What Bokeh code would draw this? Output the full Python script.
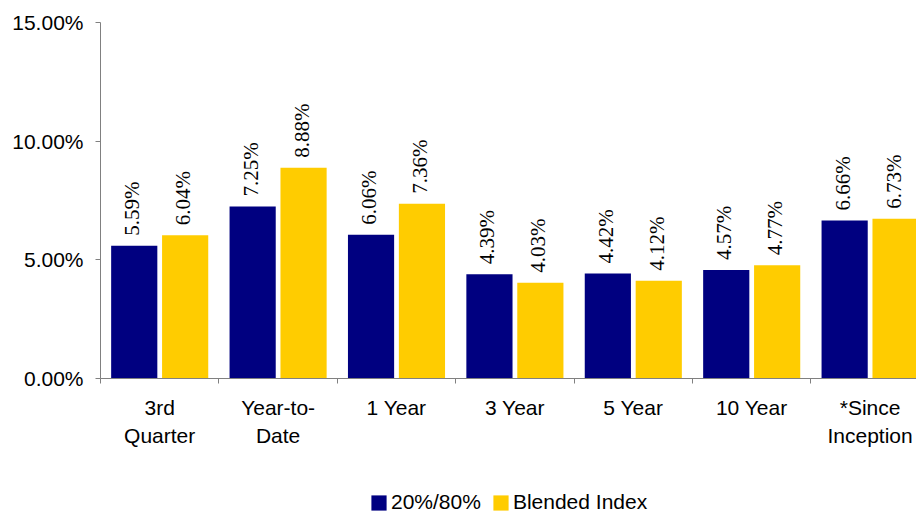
import math
from bokeh.plotting import figure
from bokeh.layouts import column
from bokeh.models import (Range1d, FixedTicker, PrintfTickFormatter, LinearAxis,
                          Legend, LegendItem, LabelSet, ColumnDataSource)
from bokeh.embed import file_html
from bokeh.resources import INLINE

# ---- data ----
categories = ["3rd\nQuarter", "Year-to-\nDate", "1 Year", "3 Year", "5 Year",
              "10 Year", "*Since\nInception"]
fund_returns = [5.59, 7.25, 6.06, 4.39, 4.42, 4.57, 6.66]
index_returns = [6.04, 8.88, 7.36, 4.03, 4.12, 4.77, 6.73]
series_names = ["20%/80%", "Blended Index"]
y_ticks = [0, 5, 10, 15]

FONT = "Liberation Sans"
FS = "21px"
BLUE = "#000080"
YELLOW = "#FFCC00"
AXIS = "#808080"

n = len(categories)
centers = [i + 0.5 for i in range(n)]
cat_px = 118.4
frame_w = 816

src = ColumnDataSource(dict(
    x1=[c - 0.215 for c in centers],
    x2=[c + 0.215 for c in centers],
    fund=fund_returns,
    idx=index_returns,
    fl=[f"{v:.2f}%" for v in fund_returns],
    il=[f"{v:.2f}%" for v in index_returns],
))

H1 = 462
p = figure(width=916, height=H1, output_backend="svg", toolbar_location=None,
           x_range=Range1d(0, frame_w / cat_px), y_range=Range1d(0, 15),
           x_axis_type=None, y_axis_type=None,
           min_border_left=100, min_border_right=0, min_border_top=22,
           min_border_bottom=H1 - 378)
p.outline_line_color = None
p.background_fill_color = "white"
p.border_fill_color = "white"

r1 = p.vbar(x="x1", top="fund", width=0.39, source=src, fill_color=BLUE, line_color=None)
r2 = p.vbar(x="x2", top="idx", width=0.39, source=src, fill_color=YELLOW, line_color=None)

yaxis = LinearAxis(ticker=FixedTicker(ticks=y_ticks),
                   formatter=PrintfTickFormatter(format="%.2f%%"),
                   major_tick_out=5, major_tick_in=0,
                   minor_tick_line_color=None,
                   axis_line_color=AXIS, major_tick_line_color=AXIS,
                   major_label_standoff=12,
                   major_label_text_font=FONT, major_label_text_font_size=FS,
                   major_label_text_color="black")
p.add_layout(yaxis, "left")

xaxis = LinearAxis(ticker=FixedTicker(ticks=centers, minor_ticks=list(range(n + 1))),
                   major_label_overrides={c: lab for c, lab in zip(centers, categories)},
                   major_tick_line_color=None, major_tick_out=5, major_tick_in=0,
                   minor_tick_in=0, minor_tick_out=5, minor_tick_line_color=AXIS,
                   axis_line_color=AXIS, major_label_standoff=12,
                   major_label_text_font=FONT, major_label_text_font_size=FS,
                   major_label_text_color="black",
                   major_label_text_line_height=1.26)
p.add_layout(xaxis, "below")

for xcol, lcol, ycol in (("x1", "fl", "fund"), ("x2", "il", "idx")):
    p.add_layout(LabelSet(x=xcol, y=ycol, text=lcol, source=src, angle=math.pi / 2,
                          text_align="left", text_baseline="middle",
                          x_offset=-2, y_offset=10,
                          text_font=FONT, text_font_size=FS, text_color="black"))

# ---- legend strip below the chart (its frame is aligned with the chart's frame) ----
H2 = 512 - H1
p2 = figure(width=916, height=H2, output_backend="svg", toolbar_location=None,
            x_range=Range1d(0, 1), y_range=Range1d(0, 1),
            x_axis_type=None, y_axis_type=None,
            min_border_left=0, min_border_right=0, min_border_top=0, min_border_bottom=0)
p2.outline_line_color = None
p2.background_fill_color = "white"
p2.border_fill_color = "white"
# key renderers: one bar each, placed outside the visible range
k1 = p2.vbar(x=[5], top=[1], width=0.1, fill_color=BLUE, line_color=None)
k2 = p2.vbar(x=[5], top=[1], width=0.1, fill_color=YELLOW, line_color=None)

legend = Legend(items=[LegendItem(label=series_names[0], renderers=[k1]),
                       LegendItem(label=series_names[1], renderers=[k2])],
                orientation="horizontal", location=(269, -2),
                glyph_width=19, glyph_height=19, label_standoff=3, spacing=10,
                padding=0, margin=0, border_line_color=None, background_fill_alpha=0,
                label_text_font=FONT, label_text_font_size=FS, label_height=19,
                label_text_color="black")
p2.add_layout(legend, "center")

layout = column(p, p2, spacing=0)
open("out.html", "w").write(file_html(layout, INLINE))
